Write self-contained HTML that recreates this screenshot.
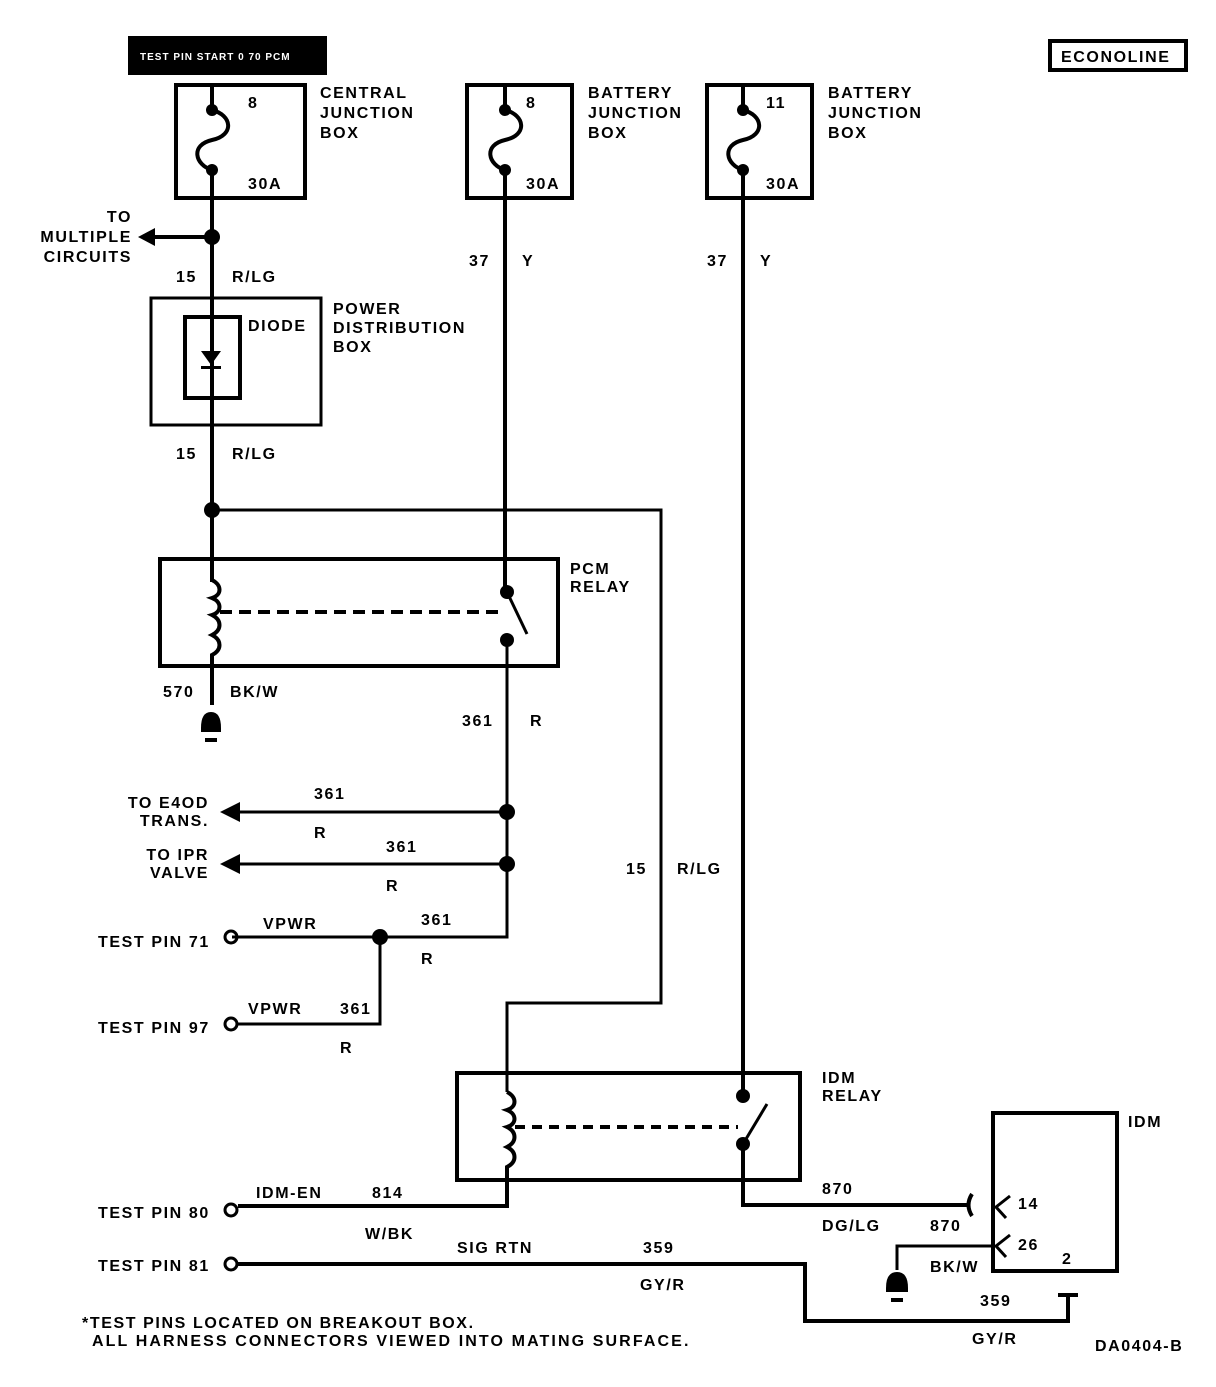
<!DOCTYPE html>
<html><head><meta charset="utf-8"><style>
html,body{margin:0;padding:0;background:#fff}
svg text{font-family:"Liberation Sans",Arial,sans-serif;font-size:16px;font-weight:bold;fill:#000;letter-spacing:1.6px}
</style></head><body>
<svg width="1216" height="1382" viewBox="0 0 1216 1382" xmlns="http://www.w3.org/2000/svg">
<g fill="none" stroke="#000" stroke-width="4">
<rect x="130" y="38" width="195" height="35" fill="#000"/>
<rect x="1050" y="41" width="136" height="29" stroke-width="4"/>
<rect x="176" y="85" width="129" height="113"/>
<rect x="467" y="85" width="105" height="113"/>
<rect x="707" y="85" width="105" height="113"/>
<path d="M212,84V110 C232,115 235,135 212,140 C190,145 195,165 212,170V237" stroke-width="4"/>
<path d="M505,84V110 C525,115 528,135 505,140 C483,145 488,165 505,170V592" stroke-width="4"/>
<path d="M743,84V110 C763,115 766,135 743,140 C721,145 726,165 743,170V1096" stroke-width="4"/>
<line x1="212" y1="237" x2="212" y2="582" stroke-width="4"/>
<line x1="150" y1="237" x2="212" y2="237" stroke-width="4"/>
<rect x="151" y="298" width="170" height="127" stroke-width="3"/>
<rect x="185" y="317" width="55" height="81"/>
<polyline points="212,510 661,510 661,1003 507,1003 507,1092" stroke-width="3"/>
<rect x="160" y="559" width="398" height="107"/>
<path d="M212,580 C222,585 222,595 212,598 C222,602 222,612 212,615 C222,620 222,630 212,635 C222,640 222,650 212,655V705" stroke-width="4"/>
<line x1="220" y1="612" x2="502" y2="612" stroke-dasharray="12,7" stroke-width="4"/>
<line x1="507" y1="592" x2="527" y2="634" stroke-width="3"/>
<polyline points="507,640 507,937 232,937" stroke-width="3"/>
<line x1="232" y1="812" x2="507" y2="812" stroke-width="3"/>
<line x1="232" y1="864" x2="507" y2="864" stroke-width="3"/>
<polyline points="380,937 380,1024 238,1024" stroke-width="3"/>
<circle cx="231" cy="937" r="6" stroke-width="3"/>
<circle cx="231" cy="1024" r="6" stroke-width="3"/>
<circle cx="231" cy="1210" r="6" stroke-width="3"/>
<circle cx="231" cy="1264" r="6" stroke-width="3"/>
<rect x="457" y="1073" width="343" height="107"/>
<path d="M507,1092 C517,1097 517,1107 507,1110 C517,1114 517,1124 507,1127 C517,1132 517,1142 507,1147 C517,1152 517,1162 507,1167V1206H238" stroke-width="4"/>
<line x1="515" y1="1127" x2="738" y2="1127" stroke-dasharray="10,7" stroke-width="4"/>
<line x1="743" y1="1144" x2="767" y2="1104" stroke-width="3"/>
<polyline points="743,1144 743,1205 970,1205" stroke-width="4"/>
<path d="M972,1194 Q965,1205 972,1216" stroke-width="4"/>
<rect x="993" y="1113" width="124" height="158"/>
<path d="M1010,1196 L996,1207 L1006,1218 M1010,1235 L996,1246 L1006,1257" stroke-width="3"/>
<polyline points="993,1246 897,1246 897,1270" stroke-width="3"/>
<polyline points="238,1264 805,1264 805,1321 1068,1321 1068,1295" stroke-width="4"/>
<line x1="1058" y1="1295" x2="1078" y2="1295" stroke-width="4"/>
</g>
<g fill="#000">
<circle cx="212" cy="110" r="6"/><circle cx="212" cy="170" r="6"/>
<circle cx="505" cy="110" r="6"/><circle cx="505" cy="170" r="6"/>
<circle cx="743" cy="110" r="6"/><circle cx="743" cy="170" r="6"/>
<circle cx="212" cy="237" r="8"/>
<circle cx="212" cy="510" r="8"/>
<circle cx="507" cy="592" r="7"/><circle cx="507" cy="640" r="7"/>
<circle cx="507" cy="812" r="8"/><circle cx="507" cy="864" r="8"/>
<circle cx="380" cy="937" r="8"/>
<circle cx="743" cy="1096" r="7"/><circle cx="743" cy="1144" r="7"/>
<polygon points="138,237 155,228 155,246"/>
<polygon points="220,812 240,802 240,822"/>
<polygon points="220,864 240,854 240,874"/>
<polygon points="201,351 221,351 211,365"/>
<rect x="201" y="366" width="20" height="3"/>
<path d="M201,728 Q201,712 211,712 Q221,712 221,728 Z"/><rect x="201" y="728" width="20" height="4"/><rect x="205" y="738" width="12" height="4"/>
<path d="M886,1288 Q886,1272 897,1272 Q908,1272 908,1288 Z"/><rect x="886" y="1288" width="22" height="4"/><rect x="891" y="1298" width="12" height="4"/>
</g>
<text x="140" y="60" style="fill:#fff;font-size:10px;letter-spacing:1px">TEST PIN START 0 70 PCM</text>
<text x="1061" y="62">ECONOLINE</text>
<g>
<text x="248" y="108">8</text><text x="248" y="189">30A</text>
<text x="320" y="98">CENTRAL</text><text x="320" y="118">JUNCTION</text><text x="320" y="138">BOX</text>
<text x="526" y="108">8</text><text x="526" y="189">30A</text>
<text x="588" y="98">BATTERY</text><text x="588" y="118">JUNCTION</text><text x="588" y="138">BOX</text>
<text x="766" y="108">11</text><text x="766" y="189">30A</text>
<text x="828" y="98">BATTERY</text><text x="828" y="118">JUNCTION</text><text x="828" y="138">BOX</text>
<text x="132" y="222" text-anchor="end">TO</text><text x="132" y="242" text-anchor="end">MULTIPLE</text><text x="132" y="262" text-anchor="end">CIRCUITS</text>
<text x="176" y="282">15</text><text x="232" y="282">R/LG</text>
<text x="469" y="266">37</text><text x="522" y="266">Y</text>
<text x="707" y="266">37</text><text x="760" y="266">Y</text>
<text x="248" y="331">DIODE</text>
<text x="333" y="314">POWER</text><text x="333" y="333">DISTRIBUTION</text><text x="333" y="352">BOX</text>
<text x="176" y="459">15</text><text x="232" y="459">R/LG</text>
<text x="570" y="574">PCM</text><text x="570" y="592">RELAY</text>
<text x="163" y="697">570</text><text x="230" y="697">BK/W</text>
<text x="462" y="726">361</text><text x="530" y="726">R</text>
<text x="209" y="808" text-anchor="end">TO E4OD</text><text x="209" y="826" text-anchor="end">TRANS.</text>
<text x="314" y="799">361</text><text x="314" y="838">R</text>
<text x="209" y="860" text-anchor="end">TO IPR</text><text x="209" y="878" text-anchor="end">VALVE</text>
<text x="386" y="852">361</text><text x="386" y="891">R</text>
<text x="626" y="874">15</text><text x="677" y="874">R/LG</text>
<text x="98" y="947">TEST PIN 71</text><text x="263" y="929">VPWR</text><text x="421" y="925">361</text><text x="421" y="964">R</text>
<text x="98" y="1033">TEST PIN 97</text><text x="248" y="1014">VPWR</text><text x="340" y="1014">361</text><text x="340" y="1053">R</text>
<text x="822" y="1083">IDM</text><text x="822" y="1101">RELAY</text>
<text x="1128" y="1127">IDM</text>
<text x="98" y="1218">TEST PIN 80</text><text x="256" y="1198">IDM-EN</text><text x="372" y="1198">814</text><text x="365" y="1239">W/BK</text>
<text x="822" y="1194">870</text><text x="822" y="1231">DG/LG</text>
<text x="930" y="1231">870</text><text x="930" y="1272">BK/W</text>
<text x="1018" y="1209">14</text><text x="1018" y="1250">26</text><text x="1062" y="1264">2</text>
<text x="98" y="1271">TEST PIN 81</text><text x="457" y="1253">SIG RTN</text><text x="643" y="1253">359</text><text x="640" y="1290">GY/R</text>
<text x="980" y="1306">359</text><text x="972" y="1344">GY/R</text>
<text x="82" y="1328">*TEST PINS LOCATED ON BREAKOUT BOX.</text>
<text x="92" y="1346" textLength="598" lengthAdjust="spacing">ALL HARNESS CONNECTORS VIEWED INTO MATING SURFACE.</text>
<text x="1095" y="1351">DA0404-B</text>
</g>
</svg>
</body></html>
